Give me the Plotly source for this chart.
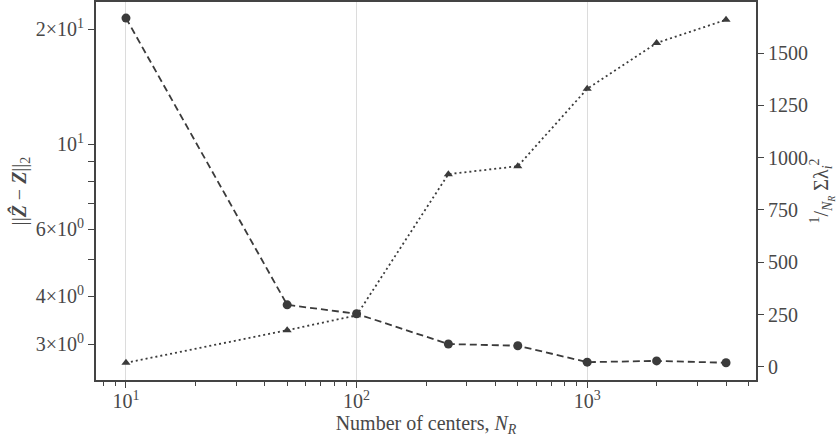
import plotly.graph_objects as go

centers = [10, 50, 100, 250, 500, 1000, 2000, 4000]
error_norm = [21.4, 3.80, 3.60, 3.00, 2.97, 2.69, 2.71, 2.68]
lambda_mean = [19, 175, 246, 921, 959, 1329, 1548, 1659]

x_tickvals = [10, 100, 1000]
x_ticktext = ["10<sup>1</sup>", "10<sup>2</sup>", "10<sup>3</sup>"]
x_minor = [8, 9, 20, 30, 40, 50, 60, 70, 80, 90,
           200, 300, 400, 500, 600, 700, 800, 900, 2000, 3000, 4000, 5000]
y_tickvals = [3, 4, 6, 10, 20]
y_ticktext = ["3×10<sup>0</sup>", "4×10<sup>0</sup>", "6×10<sup>0</sup>",
              "10<sup>1</sup>", "2×10<sup>1</sup>"]
y_minor = [5, 7, 8, 9]
y2_tickvals = [0, 250, 500, 750, 1000, 1250, 1500]

INK = "#3b3b3b"
TXT = "#484848"
AX = "#444444"
FONT = "Liberation Serif"
FS = 20

fig = go.Figure()
fig.add_trace(go.Scatter(
    x=centers, y=error_norm, mode="lines+markers",
    line=dict(color=INK, width=1.8, dash="7px,4px"),
    marker=dict(symbol="circle", size=9, color=INK),
    yaxis="y", showlegend=False))
fig.add_trace(go.Scatter(
    x=centers, y=lambda_mean, mode="lines+markers",
    line=dict(color=INK, width=1.8, dash="2px,3px"),
    marker=dict(symbol="triangle-up", size=8, color=INK),
    yaxis="y2", showlegend=False))

fig.update_layout(
    width=837, height=437,
    margin=dict(l=96, r=81, t=2, b=57),
    paper_bgcolor="white", plot_bgcolor="white",
    font=dict(family=FONT, color=TXT, size=FS),
    xaxis=dict(
        type="log", range=[0.87, 3.732], automargin=False,
        tickmode="array", tickvals=x_tickvals, ticktext=x_ticktext,
        ticks="outside", ticklen=6, tickwidth=1.2, tickcolor=AX,
        ticklabelstandoff=-4,
        minor=dict(tickmode="array", tickvals=x_minor, ticks="outside",
                   ticklen=3.5, tickwidth=1, tickcolor=AX, showgrid=False),
        showgrid=True, gridcolor="#dcdcdc", gridwidth=1.2,
        showline=True, linecolor=AX, linewidth=2, mirror=True,
        zeroline=False,
        title=dict(text="Number of centers, <i>N</i><sub><i>R</i></sub>",
                   font=dict(size=FS, family=FONT, color=TXT), standoff=0),
        tickfont=dict(size=FS, family=FONT, color=TXT),
    ),
    yaxis=dict(
        type="log", range=[0.383, 1.3725], automargin=False,
        tickmode="array", tickvals=y_tickvals, ticktext=y_ticktext,
        ticks="outside", ticklen=6, tickwidth=1.2, tickcolor=AX,
        minor=dict(tickmode="array", tickvals=y_minor, ticks="outside",
                   ticklen=6, tickwidth=1.2, tickcolor=AX, showgrid=False),
        showgrid=False, zeroline=False,
        showline=True, linecolor=AX, linewidth=2,
        title=dict(text="||<b><i>Z\u0302</i></b> − <b><i>Z</i></b>||<sub>2</sub>",
                   font=dict(size=FS, family=FONT, color=TXT), standoff=4),
        tickfont=dict(size=FS, family=FONT, color=TXT),
    ),
    yaxis2=dict(
        overlaying="y", side="right", range=[-63, 1744], automargin=False,
        tickmode="array", tickvals=y2_tickvals,
        ticks="outside", ticklen=6, tickwidth=1.2, tickcolor=AX,
        showgrid=False, zeroline=False,
        showline=True, linecolor=AX, linewidth=2,
        title=dict(text="<sup>1</sup>/<sub><i>N<sub>R</sub></i></sub> Σλ<sub><i>i</i></sub><sup>2</sup>",
                   font=dict(size=FS, family=FONT, color=TXT), standoff=2),
        tickfont=dict(size=FS, family=FONT, color=TXT),
    ),
)

fig.write_html("out.html", config={"displayModeBar": False},
               post_script="document.body.style.margin='0';document.body.style.padding='0';")
